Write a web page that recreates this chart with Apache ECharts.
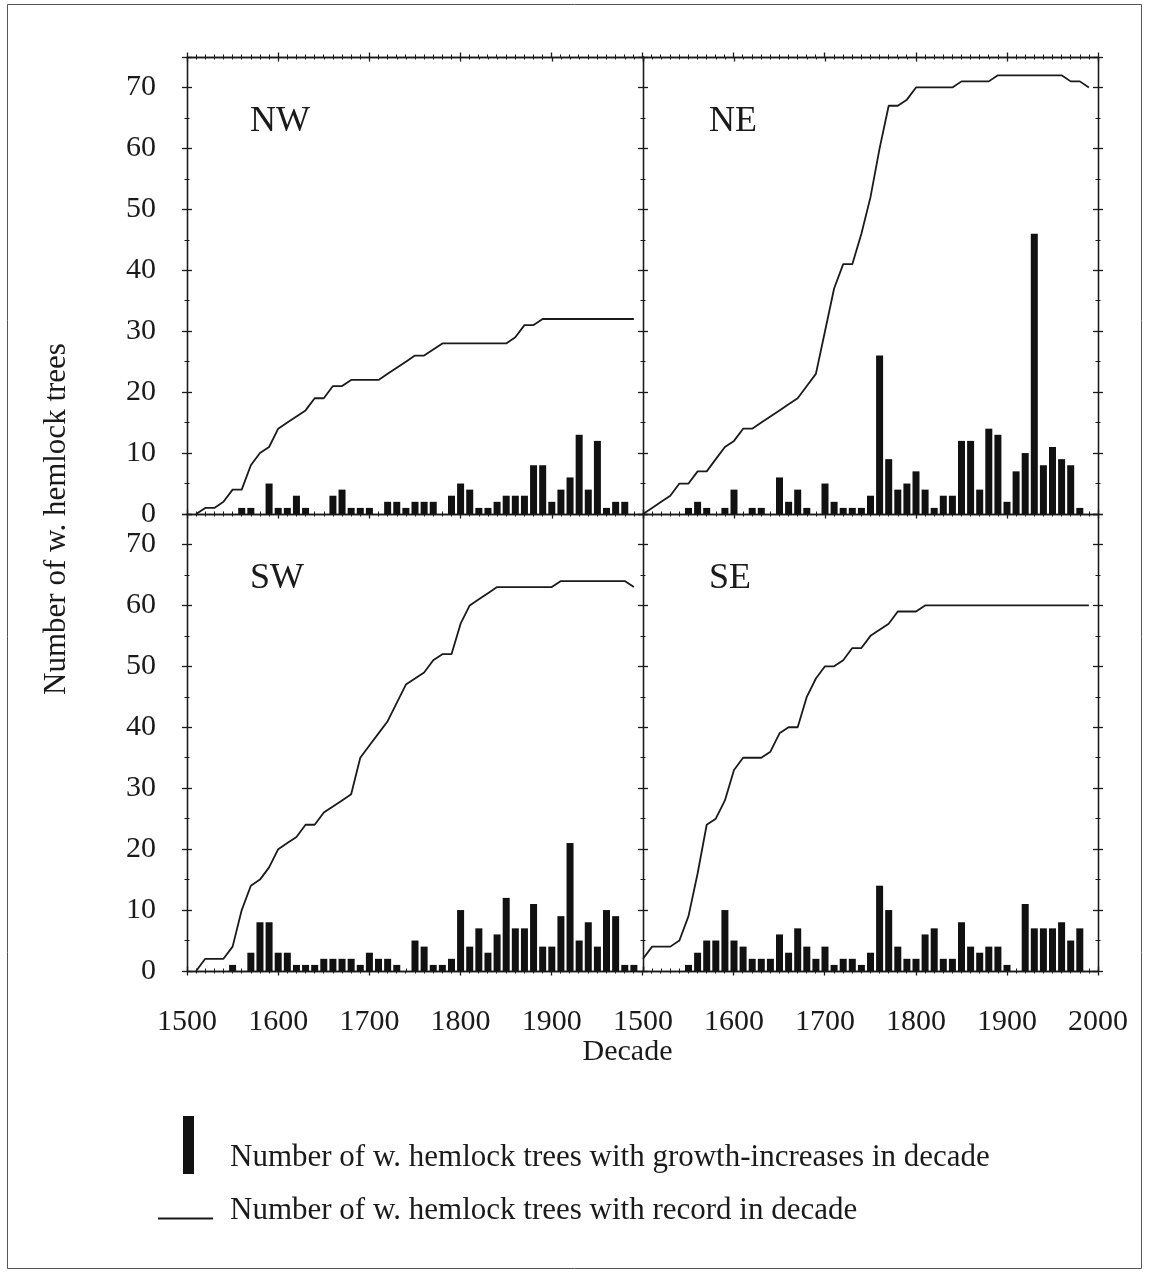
<!DOCTYPE html>
<html>
<head>
<meta charset="utf-8">
<title>Western hemlock growth increases by quadrant</title>
<script src="https://cdn.jsdelivr.net/npm/echarts@6/dist/echarts.min.js"></script>
<style>
  html, body { margin: 0; padding: 0; background: #fff; }
  #chart { width: 1149px; height: 1274px; }
</style>
</head>
<body>
<div id="chart"></div>
<script>
"use strict";

// decades on the x axis
const decades = [
  1500, 1510, 1520, 1530, 1540, 1550, 1560, 1570, 1580, 1590,
  1600, 1610, 1620, 1630, 1640, 1650, 1660, 1670, 1680, 1690,
  1700, 1710, 1720, 1730, 1740, 1750, 1760, 1770, 1780, 1790,
  1800, 1810, 1820, 1830, 1840, 1850, 1860, 1870, 1880, 1890,
  1900, 1910, 1920, 1930, 1940, 1950, 1960, 1970, 1980, 1990,
];

// trees with growth-increases in decade (bars)
const nwBars = [
  0, 0, 0, 0, 0, 0, 1, 1, 0, 5,
  1, 1, 3, 1, 0, 0, 3, 4, 1, 1,
  1, 0, 2, 2, 1, 2, 2, 2, 0, 3,
  5, 4, 1, 1, 2, 3, 3, 3, 8, 8,
  2, 4, 6, 13, 4, 12, 1, 2, 2, 0,
];
const neBars = [
  0, 0, 0, 0, 0, 1, 2, 1, 0, 1,
  4, 0, 1, 1, 0, 6, 2, 4, 1, 0,
  5, 2, 1, 1, 1, 3, 26, 9, 4, 5,
  7, 4, 1, 3, 3, 12, 12, 4, 14, 13,
  2, 7, 10, 46, 8, 11, 9, 8, 1, 0,
];
const swBars = [
  0, 0, 0, 0, 0, 1, 0, 3, 8, 8,
  3, 3, 1, 1, 1, 2, 2, 2, 2, 1,
  3, 2, 2, 1, 0, 5, 4, 1, 1, 2,
  10, 4, 7, 3, 6, 12, 7, 7, 11, 4,
  4, 9, 21, 5, 8, 4, 10, 9, 1, 1,
];
const seBars = [
  0, 0, 0, 0, 0, 1, 3, 5, 5, 10,
  5, 4, 2, 2, 2, 6, 3, 7, 4, 2,
  4, 1, 2, 2, 1, 3, 14, 10, 4, 2,
  2, 6, 7, 2, 2, 8, 4, 3, 4, 4,
  1, 0, 11, 7, 7, 7, 8, 5, 7, 0,
];

// trees with record in decade (line)
const nwRecord = [
  null, 0, 1, 1, 2, 4, 4, 8, 10, 11,
  14, 15, 16, 17, 19, 19, 21, 21, 22, 22,
  22, 22, 23, 24, 25, 26, 26, 27, 28, 28,
  28, 28, 28, 28, 28, 28, 29, 31, 31, 32,
  32, 32, 32, 32, 32, 32, 32, 32, 32, 32,
];
const neRecord = [
  0, 1, 2, 3, 5, 5, 7, 7, 9, 11,
  12, 14, 14, 15, 16, 17, 18, 19, 21, 23,
  30, 37, 41, 41, 46, 52, 60, 67, 67, 68,
  70, 70, 70, 70, 70, 71, 71, 71, 71, 72,
  72, 72, 72, 72, 72, 72, 72, 71, 71, 70,
];
const swRecord = [
  null, 0, 2, 2, 2, 4, 10, 14, 15, 17,
  20, 21, 22, 24, 24, 26, 27, 28, 29, 35,
  37, 39, 41, 44, 47, 48, 49, 51, 52, 52,
  57, 60, 61, 62, 63, 63, 63, 63, 63, 63,
  63, 64, 64, 64, 64, 64, 64, 64, 64, 63,
];
const seRecord = [
  2, 4, 4, 4, 5, 9, 16, 24, 25, 28,
  33, 35, 35, 35, 36, 39, 40, 40, 45, 48,
  50, 50, 51, 53, 53, 55, 56, 57, 59, 59,
  59, 60, 60, 60, 60, 60, 60, 60, 60, 60,
  60, 60, 60, 60, 60, 60, 60, 60, 60, 60,
];

const yTicks = [0, 10, 20, 30, 40, 50, 60, 70];
const xTicksLeft = [1500, 1600, 1700, 1800, 1900];
const xTicksRight = [1500, 1600, 1700, 1800, 1900, 2000];

const BAR_NAME = "Number of w. hemlock trees with growth-increases in decade";
const LINE_NAME = "Number of w. hemlock trees with record in decade";

const FONT = '"Liberation Serif", "Times New Roman", serif';
const INK = "#1a1a1a";

const panels = [
  { label: "NW", bars: nwBars, record: nwRecord, left: 187, top: 57, width: 456, labelX: false, labelY: true, xTicks: xTicksLeft },
  { label: "NE", bars: neBars, record: neRecord, left: 643, top: 57, width: 455, labelX: false, labelY: false, xTicks: xTicksRight },
  { label: "SW", bars: swBars, record: swRecord, left: 187, top: 514, width: 456, labelX: true, labelY: true, xTicks: xTicksLeft },
  { label: "SE", bars: seBars, record: seRecord, left: 643, top: 514, width: 455, labelX: true, labelY: false, xTicks: xTicksRight },
];

const lineStyle = { color: INK, width: 1.3 };

function xAxis(gridIndex, position, max, inside, labelTicks) {
  return {
    type: "value",
    gridIndex,
    position,
    min: 1500,
    max,
    interval: 100,
    axisLine: { show: true, onZero: false, lineStyle },
    axisTick: { show: true, inside, length: 4.5, lineStyle },
    minorTick: { show: true, splitNumber: 10, length: 2.5, lineStyle: { color: INK, width: 1 } },
    splitLine: { show: false },
    minorSplitLine: { show: false },
    axisLabel: labelTicks
      ? {
          show: true,
          margin: 36,
          fontFamily: FONT,
          fontSize: 30,
          color: INK,
          formatter: (v) => (labelTicks.includes(v) ? String(v) : ""),
        }
      : { show: false },
  };
}

function yAxis(gridIndex, position, inside, withLabels) {
  return {
    type: "value",
    gridIndex,
    position,
    min: 0,
    max: 75,
    interval: 10,
    axisLine: { show: true, onZero: false, lineStyle },
    axisTick: { show: true, inside, length: 5, lineStyle },
    minorTick: { show: true, splitNumber: 2, length: 2.5, lineStyle: { color: INK, width: 1 } },
    splitLine: { show: false },
    minorSplitLine: { show: false },
    axisLabel: withLabels
      ? {
          show: true,
          margin: 31,
          fontFamily: FONT,
          fontSize: 30,
          color: INK,
          formatter: (v) => (yTicks.includes(v) ? String(v) : ""),
        }
      : { show: false },
  };
}

const grids = [];
const xAxes = [];
const yAxes = [];
const series = [];
const titles = [];

panels.forEach((p, i) => {
  grids.push({ left: p.left, top: p.top, width: p.width, height: 457 });
  xAxes.push(xAxis(i, "bottom", 2000, true, p.labelX ? p.xTicks : null));
  xAxes.push(xAxis(i, "top", 2000, true, null));
  yAxes.push(yAxis(i, "left", true, p.labelY));
  yAxes.push(yAxis(i, "right", true, false));

  series.push({
    name: BAR_NAME,
    type: "bar",
    xAxisIndex: i * 2,
    yAxisIndex: i * 2,
    barWidth: 7,
    silent: true,
    itemStyle: { color: "#111" },
    data: decades.map((d, k) => [d, p.bars[k]]),
  });
  series.push({
    name: LINE_NAME,
    type: "line",
    xAxisIndex: i * 2,
    yAxisIndex: i * 2,
    symbol: "none",
    silent: true,
    color: INK,
    itemStyle: { color: INK },
    lineStyle: { color: INK, width: 1.8 },
    data: decades.map((d, k) => [d, p.record[k]]).filter((pt) => pt[1] !== null),
  });

  titles.push({
    text: p.label,
    left: p.left === 187 ? 250 : 709,
    top: p.top === 57 ? 104 : 561,
    padding: 0,
    textStyle: { fontFamily: FONT, fontSize: 36, fontWeight: "normal", color: INK },
  });
});

// outer frame: outward ticks on the outside edges (inward ones come from the panels)
grids.push({ left: 187, top: 57, width: 911, height: 457 });
grids.push({ left: 187, top: 514, width: 911, height: 457 });
xAxes.push(xAxis(4, "top", 2500, false, null));
xAxes.push(
  Object.assign(xAxis(5, "bottom", 2500, false, null), {
    name: "Decade",
    nameLocation: "middle",
    nameGap: 66,
    nameTextStyle: { fontFamily: FONT, fontSize: 30, color: INK, padding: [0, 30, 0, 0] },
  })
);
yAxes.push(yAxis(4, "left", false, false));
yAxes.push(yAxis(4, "right", false, false));
yAxes.push(yAxis(5, "left", false, false));
yAxes.push(yAxis(5, "right", false, false));

const legendText = (pad) => ({
  formatter: (name) => `{t|${name}}`,
  textStyle: {
    rich: { t: { fontFamily: FONT, fontSize: 31, color: INK, padding: pad } },
  },
});

const chart = echarts.init(document.getElementById("chart"), null, { renderer: "canvas" });

chart.setOption({
  animation: false,
  backgroundColor: "#fff",
  title: titles,
  grid: grids,
  xAxis: xAxes,
  yAxis: yAxes,
  legend: [
    Object.assign(
      {
        data: [BAR_NAME],
        left: 183,
        top: 1116,
        padding: 0,
        icon: "rect",
        itemWidth: 11,
        itemHeight: 58,
        selectedMode: false,
      },
      legendText([26, 0, 0, 31])
    ),
    Object.assign(
      {
        data: [LINE_NAME],
        left: 158,
        top: 1195,
        padding: 0,
        icon: "rect",
        itemWidth: 55,
        itemHeight: 2,
        selectedMode: false,
      },
      legendText([0, 0, 16, 12])
    ),
  ],
  graphic: [
    {
      type: "rect",
      shape: { x: 7.5, y: 4.5, width: 1134, height: 1264 },
      style: { fill: "none", stroke: "#555", lineWidth: 1 },
      silent: true,
    },
    {
      type: "text",
      x: 57,
      y: 519,
      rotation: Math.PI / 2,
      style: {
        text: "Number of w. hemlock trees",
        font: '31px "Liberation Serif", "Times New Roman", serif',
        fill: INK,
        align: "center",
        verticalAlign: "middle",
      },
      silent: true,
    },
  ],
  series,
});
</script>
</body>
</html>
